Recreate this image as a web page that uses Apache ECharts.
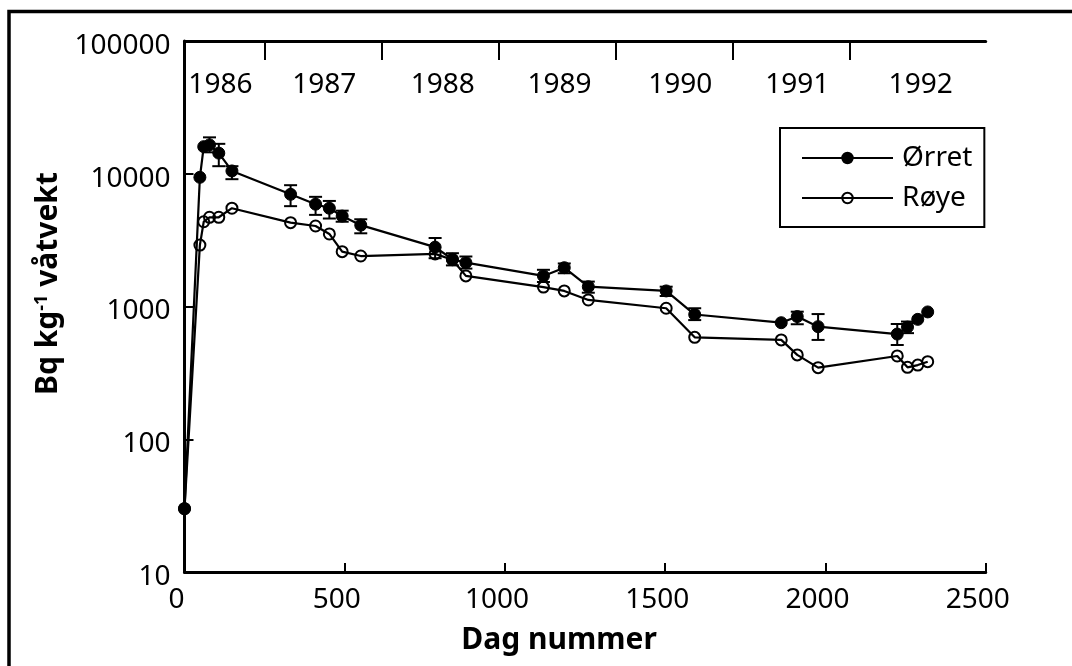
<!DOCTYPE html>
<html>
<head>
<meta charset="utf-8">
<script src="https://cdn.jsdelivr.net/npm/echarts@6/dist/echarts.min.js"></script>
<style>
html,body{margin:0;padding:0;background:#fff;}
#chart{width:1072px;height:666px;}
</style>
</head>
<body>
<div id="chart"></div>
<script>
// Sampling days (day number after 26 April 1986)
const days = [0, 48, 60, 78, 107, 148, 331, 409, 452, 492, 550, 782, 836, 878, 1120, 1185, 1260, 1503, 1592, 1862, 1912, 1977, 2224, 2256, 2288, 2319];
// Ørret (trout) mean values, Bq/kg
const orretValues = [30, 9400, 16000, 16500, 14300, 10500, 7000, 5900, 5500, 4800, 4100, 2800, 2270, 2140, 1700, 1960, 1410, 1310, 870, 755, 840, 705, 620, 700, 800, 910];
// Ørret error bar lower / upper values
const orretLow  = [null, null, null, 14500, 11400, 9100, 5700, 4900, 4600, 4350, 3560, 2310, 2040, 1930, 1530, 1780, 1270, 1200, 790, null, 735, 560, 513, 630, null, null];
const orretHigh = [null, null, null, 18800, 16800, 11400, 8200, 6700, 6240, 5270, 4540, 3280, 2520, 2380, 1890, 2110, 1540, 1410, 970, null, 914, 877, 738, 770, null, null];
// Røye (Arctic char) mean values, Bq/kg
const royeValues = [30, 2900, 4350, 4700, 4700, 5500, 4280, 4040, 3520, 2590, 2400, 2490, 2250, 1700, 1400, 1310, 1120, 970, 586, 560, 432, 346, 424, 348, 362, 384];

// Top axis: year boundaries and year labels
const yearStartDays = [250, 615, 981, 1346, 1711, 2076];
const yearLabelDays = [112, 436, 806, 1170, 1547, 1912, 2297];
const yearLabels = ['1986', '1987', '1988', '1989', '1990', '1991', '1992'];

const xTicks = [0, 500, 1000, 1500, 2000, 2500];
const yTicks = [10, 100, 1000, 10000, 100000];

const FONT = 'Noto Sans';
const chart = echarts.init(document.getElementById('chart'), null, {renderer: 'canvas'});

const errData = [];
days.forEach((d, i) => {
  if (orretLow[i] != null && orretHigh[i] != null) errData.push([d, orretLow[i], orretHigh[i]]);
});

const option = {
  animation: false,
  backgroundColor: '#fff',
  textStyle: {fontFamily: FONT, color: '#000'},
  grid: {left: 184.5, right: 86.3, top: 41, bottom: 94, containLabel: false},
  legend: {
    data: ['Ørret', 'Røye'],
    orient: 'vertical',
    left: 780,
    top: 128,
    padding: [16, 12, 15, 21],
    itemGap: 12,
    itemWidth: 91,
    itemHeight: 13,
    borderColor: '#000',
    borderWidth: 2,
    textStyle: {fontFamily: FONT, fontSize: 28, color: '#000', padding: [0, 0, 0, 4]}
  },
  xAxis: [
    {
      type: 'value', position: 'bottom', min: xTicks[0], max: xTicks[xTicks.length - 1], interval: 500,
      axisLine: {show: true, onZero: false, lineStyle: {color: '#000', width: 3}},
      axisTick: {show: true, inside: true, length: 9, lineStyle: {color: '#000', width: 2}},
      axisLabel: {fontFamily: FONT, fontSize: 28, color: '#000', margin: 14, padding: [0, 16, 0, 0], formatter: v => String(v)},
      splitLine: {show: false},
      name: 'Dag nummer', nameLocation: 'middle', nameGap: 53,
      nameTextStyle: {fontFamily: FONT, fontSize: 30, fontWeight: 'bold', color: '#000', padding: [0, 52, 0, 0]}
    },
    {
      type: 'value', position: 'top', min: 0, max: 2500,
      axisLine: {show: true, onZero: false, lineStyle: {color: '#000', width: 3}},
      axisTick: {show: true, inside: true, length: 19, customValues: yearStartDays, lineStyle: {color: '#000', width: 2}},
      axisLabel: {
        show: true, inside: true, margin: 30, customValues: yearLabelDays,
        fontFamily: FONT, fontSize: 28, color: '#000',
        formatter: v => { const i = yearLabelDays.indexOf(v); return i >= 0 ? yearLabels[i] : ''; }
      },
      splitLine: {show: false}
    }
  ],
  yAxis: {
    type: 'log', logBase: 10, min: yTicks[0], max: yTicks[yTicks.length - 1],
    axisLine: {show: true, onZero: false, lineStyle: {color: '#000', width: 3}},
    axisTick: {show: true, inside: true, length: 9, lineStyle: {color: '#000', width: 2}},
    minorTick: {show: false},
    axisLabel: {
      fontFamily: FONT, fontSize: 28, color: '#000', margin: 14,
      formatter: v => '{lb|' + String(Math.round(v)) + '}',
      rich: {lb: {fontFamily: FONT, fontSize: 28, color: '#000', padding: [10, 0, 0, 0]}}
    },
    splitLine: {show: false},
    name: 'Bq kg{sup|-1} våtvekt', nameLocation: 'middle', nameGap: 114,
    nameTextStyle: {
      fontFamily: FONT, fontSize: 30, fontWeight: 'bold', color: '#000', padding: [0, 0, 0, 46],
      rich: {sup: {fontFamily: FONT, fontSize: 18, fontWeight: 'bold', color: '#000', verticalAlign: 'top', padding: [0, 0, 14, 0]}}
    }
  },
  graphic: [
    {type: 'polyline', silent: true, shape: {points: [[9, 700], [9, 11.5], [1100, 11.5]]}, style: {stroke: '#000', lineWidth: 3.5, fill: null}}
  ],
  series: [
    {
      type: 'custom', xAxisIndex: 0, yAxisIndex: 0, z: 3, silent: true,
      encode: {x: 0, y: [1, 2]},
      data: errData,
      renderItem: (params, api) => {
        const x = api.value(0);
        const pLo = api.coord([x, api.value(1)]);
        const pHi = api.coord([x, api.value(2)]);
        const w = 6.5;
        const st = {stroke: '#000', lineWidth: 2};
        return {type: 'group', children: [
          {type: 'line', shape: {x1: pLo[0], y1: pLo[1], x2: pHi[0], y2: pHi[1]}, style: st},
          {type: 'line', shape: {x1: pHi[0] - w, y1: pHi[1], x2: pHi[0] + w, y2: pHi[1]}, style: st},
          {type: 'line', shape: {x1: pLo[0] - w, y1: pLo[1], x2: pLo[0] + w, y2: pLo[1]}, style: st}
        ]};
      }
    },
    {
      name: 'Ørret', type: 'line', xAxisIndex: 0, z: 4,
      data: days.map((d, i) => [d, orretValues[i]]),
      symbol: 'circle', symbolSize: 12,
      lineStyle: {color: '#000', width: 2.2},
      itemStyle: {color: '#000', borderColor: '#000', borderWidth: 1}
    },
    {
      name: 'Røye', type: 'line', xAxisIndex: 0, z: 4,
      data: days.map((d, i) => [d, royeValues[i]]),
      symbol: 'circle', symbolSize: 11,
      lineStyle: {color: '#000', width: 2.2},
      itemStyle: {color: 'rgba(255,255,255,0)', borderColor: '#000', borderWidth: 2}
    }
  ]
};
chart.setOption(option);
</script>
</body>
</html>
